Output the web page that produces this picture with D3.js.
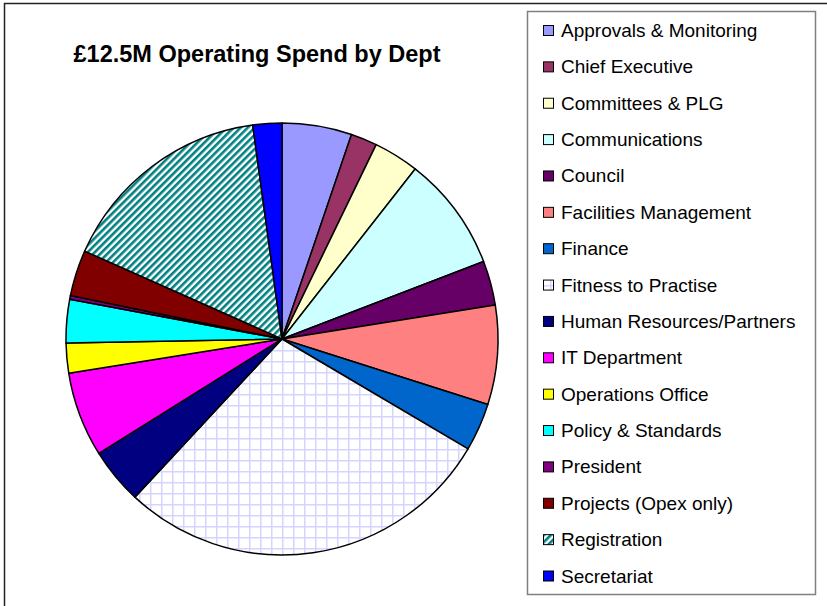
<!DOCTYPE html>
<html>
<head>
<meta charset="utf-8">
<script src="https://cdn.jsdelivr.net/npm/d3@7"></script>
<style>
  body { margin: 0; background: #fff; }
  text { font-family: Arial, "Liberation Sans", sans-serif; }
</style>
</head>
<body>
<script>
// Departments in legend / slice order (clockwise from 12 o'clock)
const depts = [
  "Approvals & Monitoring", "Chief Executive", "Committees & PLG", "Communications",
  "Council", "Facilities Management", "Finance", "Fitness to Practise",
  "Human Resources/Partners", "IT Department", "Operations Office", "Policy & Standards",
  "President", "Projects (Opex only)", "Registration", "Secretariat"
];

// Spend in £k
const spend = [652, 246, 424, 1073, 417, 927, 448, 3556, 524, 795, 278, 406, 35, 431, 2021, 271];

const fills = [
  "#9999FF", "#993366", "#FFFFCC", "#CCFFFF",
  "#660066", "#FF8080", "#0066CC", "url(#grid)",
  "#000080", "#FF00FF", "#FFFF00", "#00FFFF",
  "#800080", "#800000", "url(#stripes)", "#0000FF"
];

const title = "£12.5M Operating Spend by Dept";

const width = 827, height = 606;
const cx = 282, cy = 339, radius = 216;

const svg = d3.select("body").append("svg")
  .attr("width", width)
  .attr("height", height);

// patterns for the two hatched slices
const defs = svg.append("defs");

const grid = defs.append("pattern")
  .attr("id", "grid")
  .attr("patternUnits", "userSpaceOnUse")
  .attr("width", 11).attr("height", 11);
grid.append("rect").attr("width", 11).attr("height", 11).attr("fill", "#fff");
grid.append("path")
  .attr("d", "M0.75,0V11M0,0.75H11")
  .attr("stroke", "#D4D4FF")
  .attr("stroke-width", 1.5);

const stripes = defs.append("pattern")
  .attr("id", "stripes")
  .attr("patternUnits", "userSpaceOnUse")
  .attr("width", 5).attr("height", 5)
  .attr("patternTransform", "rotate(45)");
stripes.append("rect").attr("width", 5).attr("height", 5).attr("fill", "#fff");
stripes.append("rect").attr("width", 2.6).attr("height", 5).attr("fill", "#008080");

// outer chart frame (right/bottom edges run off the page)
svg.append("path")
  .attr("d", `M4.5,${height}V3.5H${width}`)
  .attr("fill", "none")
  .attr("stroke", "#222")
  .attr("stroke-width", 1.5);

// title
svg.append("text")
  .attr("x", 257)
  .attr("y", 62)
  .attr("text-anchor", "middle")
  .attr("font-size", 23.5)
  .attr("font-weight", "bold")
  .text(title);

// pie
const pie = d3.pie().sort(null).value(d => d);
const arc = d3.arc().innerRadius(0).outerRadius(radius);

svg.append("g")
  .attr("transform", `translate(${cx},${cy})`)
  .selectAll("path")
  .data(pie(spend))
  .enter().append("path")
  .attr("d", arc)
  .attr("fill", (d, i) => fills[i])
  .attr("stroke", "#000")
  .attr("stroke-width", 1.5)
  .attr("stroke-linejoin", "round");

// legend
svg.append("rect")
  .attr("x", 527.5).attr("y", 11.5)
  .attr("width", 288).attr("height", 583)
  .attr("fill", "#fff")
  .attr("stroke", "#808080")
  .attr("stroke-width", 1.5);

const legendY = d3.scalePoint()
  .domain(depts)
  .range([30.5, 576]);

const items = svg.append("g")
  .selectAll("g")
  .data(depts)
  .enter().append("g")
  .attr("transform", d => `translate(0,${legendY(d)})`);

items.append("rect")
  .attr("x", 543.5).attr("y", -5)
  .attr("width", 10).attr("height", 10)
  .attr("fill", (d, i) => fills[i])
  .attr("stroke", "#000")
  .attr("stroke-width", 1);

items.append("text")
  .attr("x", 561)
  .attr("y", 6.5)
  .attr("font-size", 19)
  .text(d => d);
</script>
</body>
</html>
